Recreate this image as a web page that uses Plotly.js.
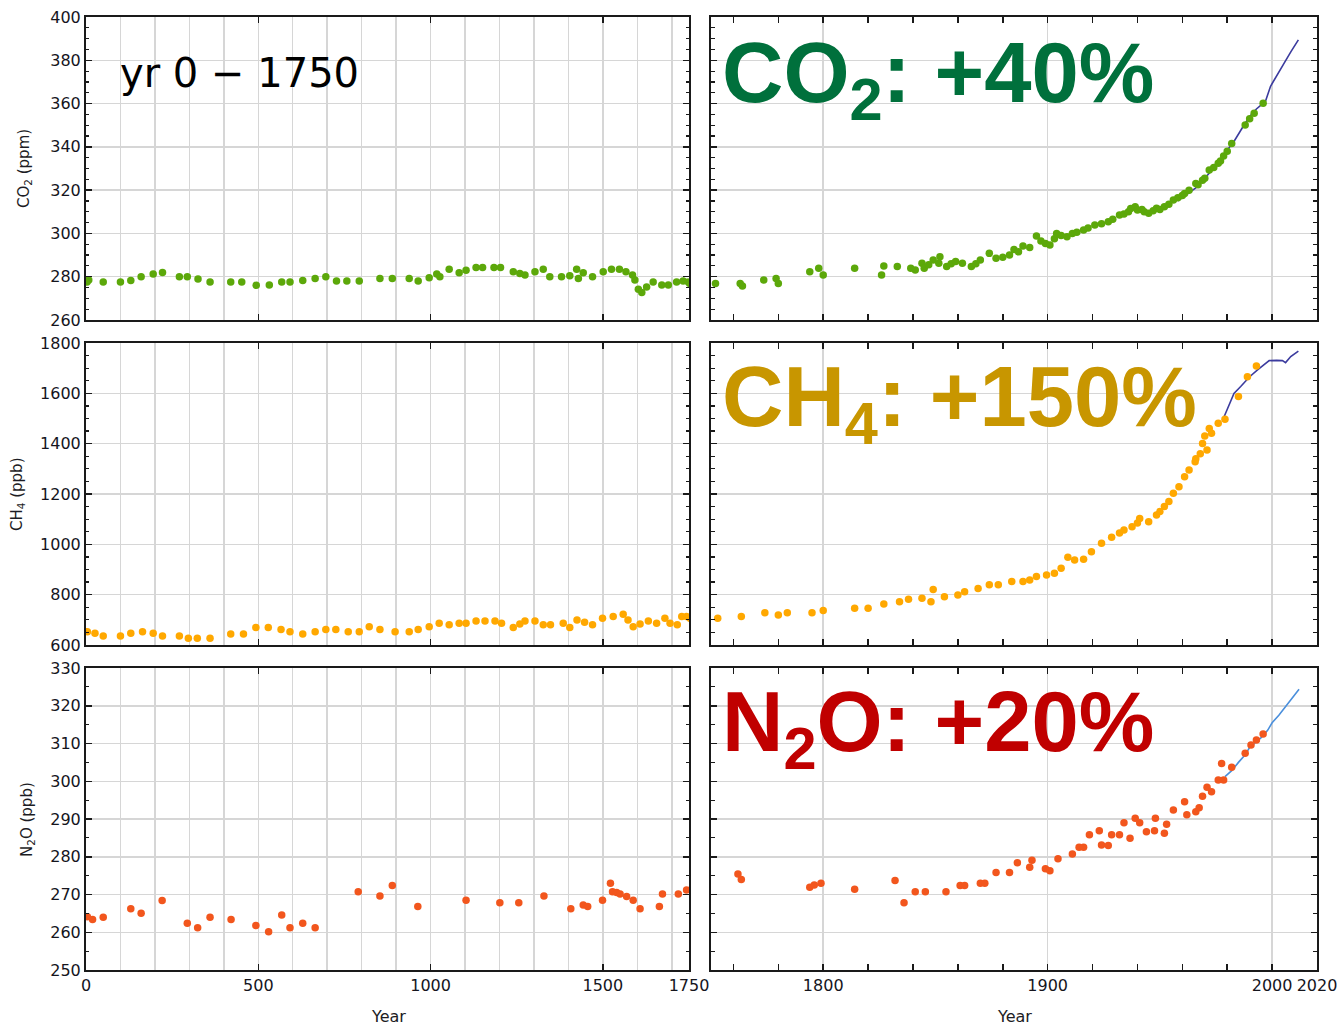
<!DOCTYPE html>
<html><head><meta charset="utf-8">
<script src="https://cdn.plot.ly/plotly-3.0.1.min.js"></script>
<style>html,body{margin:0;padding:0;background:#fff}#chart{width:1340px;height:1028px}</style>
</head><body><div id="chart"></div>
<script>
// ---------- DATA ----------
// CO2 ice-core (ppm)
const co2Year = [3,8,50,100,130,160,195,222,271,294,325,360,420,452,494,532,568,592,629,665,696,727,757,793,853,889,938,964,996,1018,1027,1054,1083,1103,1132,1151,1184,1203,1240,1259,1274,1303,1327,1346,1380,1404,1424,1429,1443,1470,1501,1525,1548,1567,1586,1593,1603,1613,1627,1646,1671,1690,1714,1733,1748,
  1752,1763,1764,1773.5,1779,1780,1794,1798,1800,1814,1826,1827,1833,1839,1841,1844,1845,1847,1849,1851.5,1852,1855,1857,1859,1862,1866,1868,1870,1874,1877,1880,1883,1885,1887,1889,1892,1895,1897,1899,1901,1903,1904,1906,1908.6,1911,1913,1916,1918,1921,1924,1927,1929,1932,1934,1936,1937,1939,1940,1942,1943,1945,1947,1948.5,1950,1952,1954,1956,1958,1960,1961,1963,1966,1967,1969,1970,1972,1974,1976,1977,1978.4,1980,1982,1988,1990,1992,1996];
const co2Val = [277.5,278.5,277.5,277.5,278.2,280,281.2,282,280,280,279,277.5,277.5,277.5,276,276.2,277.5,277.5,278.2,279.2,280,278,278,278,279.2,279.2,279.2,278,279.5,281.2,280,283.4,281.8,283,284.2,284.2,284.2,284.2,282.3,281.5,280.8,282.3,283.4,280,280,280.4,283.4,279.2,281.8,280,282.3,283.4,283.4,282.3,280.8,278.5,274.2,272.7,275.2,277.5,276.2,276.2,277.5,278,277.5,
  276.9,276.9,275.7,278.5,279.2,276.9,282.3,283.9,280.8,283.9,280.8,285,284.7,283.9,283.1,286.2,283.9,285.5,287.7,286.2,289.2,284.7,286,287,286.2,284.7,286,287.7,290.8,288.5,289,290,292.6,291.5,294.2,293.5,298.8,296.5,295.4,294.6,297.5,300,299,298.5,300,300.5,301.6,302.5,303.9,304.5,305.4,306.5,308.5,309,310,311.5,312.3,310.8,311.1,310,309.3,310.5,311.6,311,312.3,313.5,315.4,316.5,317.5,318.5,320,323.1,322.5,324.6,325.5,329.3,330.5,332.4,333.5,335.8,338,341.6,350.1,353,355.5,360.1];
// CO2 direct measurements (ppm)
const co2LineYear = [1958,1962,1966,1970,1974,1978,1980,1983,1986.6,1990,1993,1997,1999.3,2002,2005.3,2008.4,2011.7];
const co2LineVal  = [315,318,321,325.5,330,335,338.5,342.5,348.6,354,357.5,361,368,373,378.6,384,389.4];

// CH4 ice-core (ppb)
const ch4Year = [4,26,50,100,130,164,195,222,271,297,323,360,420,457,493,529,566,592,629,665,696,725,761,793,822,853,897,938,964,996,1025,1054,1083,1103,1132,1158,1187,1206,1240,1259,1274,1303,1327,1348,1385,1404,1425,1447,1470,1499,1530,1559,1573,1588,1608,1632,1656,1680,1695,1716,1729,1743,
  1753,1763.5,1774,1780,1784,1795,1800,1814,1820,1827,1834,1838,1844,1848,1849,1854,1860,1863,1869,1874,1878,1884,1889,1892,1895,1899.5,1903,1906,1909,1912,1916,1919.5,1924,1928.5,1932,1934,1937.6,1940,1941,1945,1948.5,1950,1952,1954,1956,1958.5,1961,1963,1965.7,1966,1968,1969,1970,1971,1972,1973,1976,1979,1985,1989,1993];
const ch4Val = [653,647,636,636,647,653,647,636,636,627,627,627,644,644,670,670,662,653,644,653,662,662,653,653,673,662,653,653,662,673,686,680,686,686,695,695,695,686,670,683,695,695,680,680,686,670,699,690,680,706,713,722,699,673,683,695,686,706,686,680,713,713,
  706,713,728,719,728,728,737,746,746,763,772,782,786,772,821,792,799,812,825,839,839,852,852,858,872,878,885,905,949,938,941,971,1004,1028,1045,1057,1070,1085,1103,1090,1117,1130,1150,1170,1203,1229,1269,1295,1328,1340,1360,1401,1430,1375,1460,1441,1481,1497,1587,1666,1709];
// CH4 direct measurements (ppb)
const ch4LineYear = [1978,1981,1983,1986,1990,1993.5,1996,1998.7,2002,2004.6,2006,2008.3,2011.7];
const ch4LineVal  = [1494,1560,1600,1627,1666,1693,1712,1730,1731,1730,1722,1746,1768];

// N2O ice-core (ppb)
const n2oYear = [4,19,50,130,160,221,294,324,360,421,493,530,568,592,629,665,790,853,889,963,1103,1201,1256,1329,1407,1443,1456,1499,1522,1528,1540,1550,1569,1588,1608,1664,1673,1719,1743,
  1762,1763.5,1794,1796,1799,1814,1832,1836,1841,1845.5,1854.7,1861,1863,1870,1872,1877,1883,1886.5,1892,1893,1899,1901,1904.6,1911,1914,1916,1918.6,1923,1924,1927,1928.5,1932,1934,1936.7,1939,1941,1944,1947.6,1948,1952,1953,1956,1961,1962,1966,1967.5,1969,1971,1973,1976,1977.5,1978.4,1982,1988,1990.6,1993,1996];
const n2oVal = [264.1,263.4,264,266.2,265,268.4,262.4,261.2,264,263.4,261.8,260.1,264.6,261.2,262.4,261.2,270.7,269.6,272.4,266.8,268.5,267.8,267.8,269.6,266.2,267.2,266.8,268.5,273,270.7,270.5,270.1,269.5,268.5,266.2,266.8,270.1,270.1,271.2,
  275.4,274,271.9,272.5,273,271.4,273.7,267.8,270.7,270.7,270.7,272.4,272.4,273,273,275.8,275.8,278.4,277.2,279.1,276.8,276.3,279.5,280.7,282.5,282.5,285.8,286.9,283.1,283,285.8,285.8,289,284.9,290.2,289,286.6,286.9,290.2,286.2,288.6,292.4,294.6,291.1,291.9,293,296,298.4,297.2,300.3,304.7,300.3,303.7,307.4,309.6,310.9,312.5];
// N2O direct measurements (ppb)
const n2oLineYear = [1979,1982,1985,1988,1990,1993,1995,1998,2000,2003,2005,2008,2010,2012];
const n2oLineVal  = [301.2,302.8,305,307,309,310.5,311.5,313.5,315.5,317.5,319,321.5,323,324.4];

// Axis ticks / labels
const leftXTicks = [0,500,1000,1500,1750];
const rightXTicks = [1800,1900,2000,2020];
const co2Ticks = [260,280,300,320,340,360,380,400];
const ch4Ticks = [600,800,1000,1200,1400,1600,1800];
const n2oTicks = [250,260,270,280,290,300,310,320,330];

// ---------- STYLE / LAYOUT ----------
const W = 1340, H = 1028;
const px = v => v / W, py = v => 1 - v / H;
const leftDom = [px(86), px(689)], rightDom = [px(711), px(1317)];
const rowDom = [[py(320), py(17)], [py(645), py(343)], [py(970), py(668)]];
const axisCol = '#1a1a1a', gridCol = '#d6d6d6';
const tickFont = {family: 'DejaVu Sans', size: 16, color: '#15151d'};

const gases = [
  {year: co2Year, val: co2Val, ly: co2LineYear, lv: co2LineVal, dot: '#5ca80a', line: '#3b3b9e', range: [260, 400], ticks: co2Ticks, minor: 5},
  {year: ch4Year, val: ch4Val, ly: ch4LineYear, lv: ch4LineVal, dot: '#ffa800', line: '#3b3b9e', range: [600, 1800], ticks: ch4Ticks, minor: 50},
  {year: n2oYear, val: n2oVal, ly: n2oLineYear, lv: n2oLineVal, dot: '#f2561d', line: '#4a8fdc', range: [250, 330], ticks: n2oTicks, minor: 5}
];

const data = [];
const layout = {
  width: W, height: H, margin: {l: 0, r: 0, t: 0, b: 0},
  paper_bgcolor: '#fff', plot_bgcolor: '#fff', showlegend: false,
  annotations: []
};

gases.forEach((g, r) => {
  [0, 1].forEach(side => {
    const n = r * 2 + side + 1;
    const xa = 'x' + n, ya = 'y' + n;
    data.push({x: g.ly, y: g.lv, xaxis: xa, yaxis: ya, type: 'scatter', mode: 'lines',
      line: {color: g.line, width: 1.6}, hoverinfo: 'skip'});
    data.push({x: g.year, y: g.val, xaxis: xa, yaxis: ya, type: 'scatter', mode: 'markers',
      marker: {color: g.dot, size: 7.5, line: {width: 0}}, hoverinfo: 'skip'});
    const xKey = 'xaxis' + n, yKey = 'yaxis' + n;
    const common = {showline: true, linecolor: axisCol, linewidth: 2, mirror: 'ticks',
      ticks: 'inside', tickcolor: axisCol, tickwidth: 1.5, zeroline: false,
      gridcolor: gridCol, gridwidth: 1.5, tickfont: tickFont, fixedrange: true};
    if (side === 0) {
      layout[xKey] = Object.assign({}, common, {domain: leftDom, anchor: ya, range: [0, 1750],
        tickmode: 'array', tickvals: leftXTicks, ticktext: leftXTicks.map(String), ticklen: 6,
        showgrid: true, showticklabels: r === 2,
        minor: {tick0: 0, dtick: 100, showgrid: true, gridcolor: gridCol, gridwidth: 1.5, ticks: ''}});
      layout[yKey] = Object.assign({}, common, {domain: rowDom[r], anchor: xa, range: g.range,
        tickmode: 'array', tickvals: g.ticks, ticktext: g.ticks.map(String), ticklen: 6,
        showgrid: true, showticklabels: true,
        minor: {tick0: g.range[0], dtick: g.minor, ticks: 'inside', ticklen: 3, tickcolor: axisCol, tickwidth: 1.2, showgrid: false}});
    } else {
      layout[xKey] = Object.assign({}, common, {domain: rightDom, anchor: ya, range: [1750, 2020],
        tickmode: 'array', tickvals: rightXTicks, ticktext: rightXTicks.map(String), ticklen: 6,
        showgrid: true, showticklabels: r === 2,
        minor: {tick0: 1760, dtick: 20, ticks: 'inside', ticklen: 6, tickcolor: axisCol, tickwidth: 1.5, showgrid: false}});
      layout[yKey] = Object.assign({}, common, {domain: rowDom[r], anchor: xa, range: g.range,
        tickmode: 'array', tickvals: g.ticks, ticktext: g.ticks.map(String), ticklen: 6,
        showgrid: true, showticklabels: false,
        minor: {tick0: g.range[0], dtick: g.minor, ticks: 'inside', ticklen: 4, tickcolor: axisCol, tickwidth: 1.2, showgrid: false}});
    }
  });
});

const ann = (text, x, y, opts) => Object.assign({text, x: px(x), y: py(y), xref: 'paper', yref: 'paper',
  showarrow: false, borderpad: 0}, opts);
const smallFont = {family: 'DejaVu Sans', size: 15, color: '#1c1c24'};
const bigFont = c => ({family: 'Liberation Sans, Arial', size: 85, color: c, weight: 'bold'});
layout.annotations.push(
  ann('CO<sub>2</sub> (ppm)', 25, 168, {textangle: -90, font: smallFont, xanchor: 'center', yanchor: 'middle'}),
  ann('CH<sub>4</sub> (ppb)', 17, 494, {textangle: -90, font: smallFont, xanchor: 'center', yanchor: 'middle'}),
  ann('N<sub>2</sub>O (ppb)', 27, 820, {textangle: -90, font: smallFont, xanchor: 'center', yanchor: 'middle'}),
  ann('Year', 388, 1016, {font: {family: 'DejaVu Sans', size: 16, color: '#1c1c24'}, xanchor: 'center', yanchor: 'middle'}),
  ann('Year', 1014, 1016, {font: {family: 'DejaVu Sans', size: 16, color: '#1c1c24'}, xanchor: 'center', yanchor: 'middle'}),
  ann('yr 0 − 1750', 119, 49, {font: {family: 'DejaVu Sans', size: 40, color: '#000'}, xanchor: 'left', yanchor: 'top'}),
  ann('CO<sub>2</sub>: +40%', 721, 24, {font: bigFont('#00703c'), xanchor: 'left', yanchor: 'top'}),
  ann('CH<sub>4</sub>: +150%', 721, 348, {font: bigFont('#c89600'), xanchor: 'left', yanchor: 'top'}),
  ann('N<sub>2</sub>O: +20%', 721, 673, {font: bigFont('#c00000'), xanchor: 'left', yanchor: 'top'})
);

Plotly.newPlot('chart', data, layout, {staticPlot: true, displayModeBar: false});
</script>
</body></html>
